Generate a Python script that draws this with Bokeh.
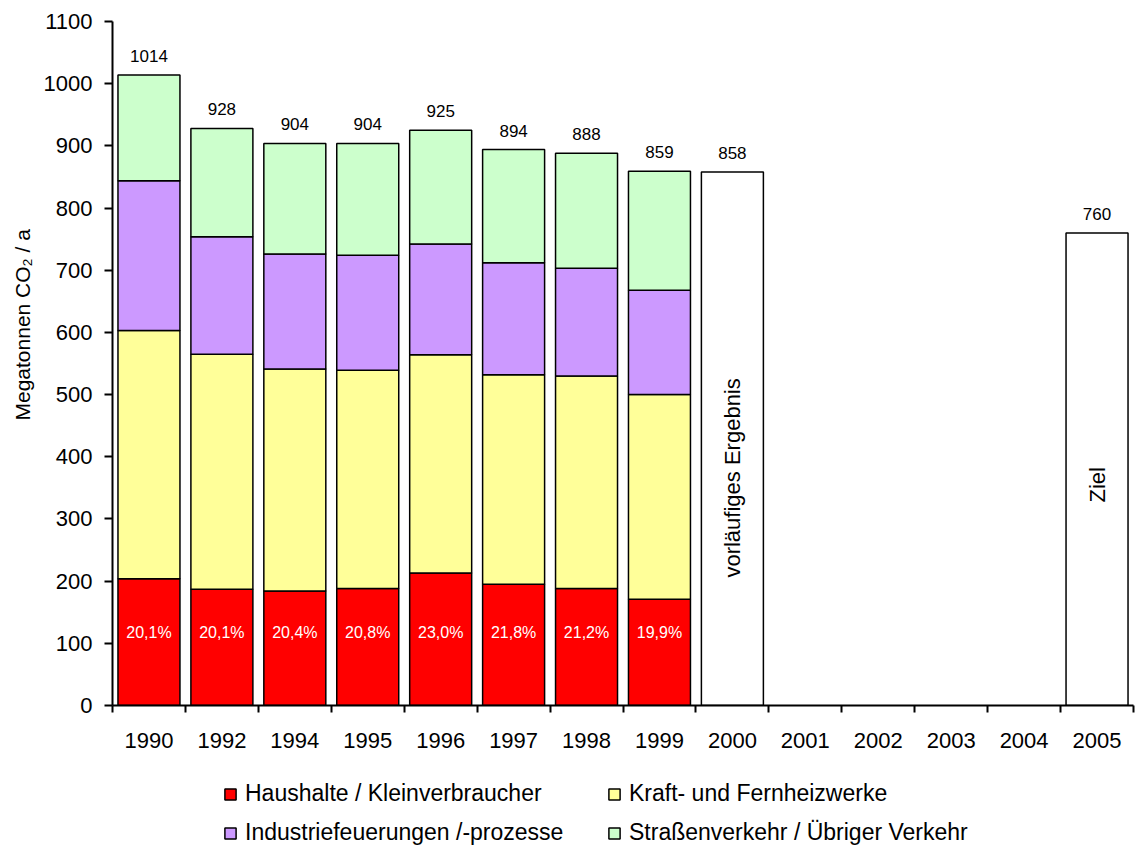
from math import pi
from bokeh.plotting import figure
from bokeh.layouts import column
from bokeh.models import (ColumnDataSource, Range1d, FixedTicker, Legend, LegendItem, Title)
from bokeh.core.properties import value
from bokeh.embed import file_html
from bokeh.resources import INLINE

# ---- data ----
years = ["1990", "1992", "1994", "1995", "1996", "1997", "1998", "1999",
         "2000", "2001", "2002", "2003", "2004", "2005"]
stack_years = ["1990", "1992", "1994", "1995", "1996", "1997", "1998", "1999"]
haushalte = [204, 187, 184, 188, 213, 195, 188, 171]
kraft = [399, 378, 357, 351, 351, 337, 342, 329]
industrie = [241, 189, 185, 185, 178, 180, 173, 168]
verkehr = [170, 174, 178, 180, 183, 182, 185, 191]
totals = [1014, 928, 904, 904, 925, 894, 888, 859]
shares = ["20,1%", "20,1%", "20,4%", "20,8%", "23,0%", "21,8%", "21,2%", "19,9%"]
extra_years = ["2000", "2005"]
extra_values = [858, 760]
extra_notes = ["vorläufiges Ergebnis", "Ziel"]
extra_note_y = [366, 355]
y_ticks = [0, 100, 200, 300, 400, 500, 600, 700, 800, 900, 1000, 1100]
series_names = ["Haushalte / Kleinverbraucher", "Kraft- und Fernheizwerke",
                "Industriefeuerungen /-prozesse", "Straßenverkehr / Übriger Verkehr"]
colors = ["#FF0000", "#FFFF99", "#CC99FF", "#CCFFCC"]

FONT = "Liberation Sans"

def xpos(y):
    return years.index(y) + 0.5

src = ColumnDataSource(dict(
    x=[xpos(y) for y in stack_years],
    h=haushalte, k=kraft, i=industrie, v=verkehr,
    total=totals, total_lbl=[str(t) for t in totals],
    share=shares,
))
src2 = ColumnDataSource(dict(
    x=[xpos(y) for y in extra_years],
    top=extra_values,
    lbl=[str(v) for v in extra_values],
    note=extra_notes,
    note_y=extra_note_y,
))

p = figure(width=1135, height=760, output_backend="svg", toolbar_location=None,
           x_range=Range1d(0, len(years)), y_range=Range1d(0, 1100),
           min_border_left=112, min_border_right=2, min_border_top=21,
           min_border_bottom=55)
p.outline_line_color = None
p.grid.visible = False
p.background_fill_color = "white"
p.border_fill_color = "white"

p.vbar_stack(["h", "k", "i", "v"], x="x", width=0.85, source=src,
             fill_color=colors, line_color="black", line_width=1.5)

p.vbar(x="x", top="top", width=0.85, source=src2, fill_color="white",
       line_color="black", line_width=1.5)

# totals above bars
p.text(x="x", y="total", text="total_lbl", source=src, text_align="center",
       text_baseline="bottom", y_offset=-13, text_font=value(FONT),
       text_font_size="17px", text_color="black")
p.text(x="x", y="top", text="lbl", source=src2, text_align="center",
       text_baseline="bottom", y_offset=-13, text_font=value(FONT),
       text_font_size="17px", text_color="black")
# share labels
p.text(x="x", y=117, text="share", source=src, text_align="center",
       text_baseline="middle", text_font=value(FONT), text_font_size="16px",
       text_color="white")
# notes in white bars
p.text(x="x", y="note_y", text="note", source=src2, angle=pi / 2,
       text_align="center", text_baseline="middle", text_font=value(FONT),
       text_font_size="22px", text_color="black")

# axes
xa = p.xaxis[0]
xa.ticker = FixedTicker(ticks=[i + 0.5 for i in range(len(years))],
                        minor_ticks=list(range(len(years) + 1)))
xa.major_label_overrides = {i + 0.5: y for i, y in enumerate(years)}
xa.major_tick_out = 0
xa.major_tick_in = 0
xa.minor_tick_out = 7
xa.minor_tick_in = 0
xa.minor_tick_line_color = "black"
xa.minor_tick_line_width = 2
xa.axis_line_width = 2
xa.axis_line_color = "black"
xa.major_label_standoff = 20
xa.major_label_text_font = FONT
xa.major_label_text_font_size = "22px"
xa.major_label_text_color = "black"

ya = p.yaxis[0]
ya.ticker = FixedTicker(ticks=y_ticks)
ya.major_tick_out = 8
ya.major_tick_in = 0
ya.minor_tick_out = 0
ya.minor_tick_in = 0
ya.major_tick_line_width = 2
ya.major_tick_line_color = "black"
ya.axis_line_width = 2
ya.axis_line_color = "black"
ya.major_label_standoff = 12
ya.major_label_text_font = FONT
ya.major_label_text_font_size = "22px"
ya.major_label_text_color = "black"

ytitle = Title(text="Megatonnen CO₂ / a", align="left", offset=285,
               text_font=FONT, text_font_size="21px", text_font_style="normal",
               text_color="black", standoff=14)
p.add_layout(ytitle, "left")

# ---- legend strip below ----
lg = figure(width=1135, height=88, output_backend="svg", toolbar_location=None,
            x_range=Range1d(0, 1), y_range=Range1d(0, 1),
            x_axis_type=None, y_axis_type=None,
            min_border_left=0, min_border_right=0, min_border_top=0, min_border_bottom=0)
lg.outline_line_color = None
lg.grid.visible = False
lg.border_fill_color = "white"

nan = float("nan")
dummy = [lg.vbar(x=[nan], top=[nan], width=0.1, fill_color=c, line_color="black",
                 line_width=1.5)
         for c in colors]
items = [LegendItem(label=n, renderers=[r]) for n, r in zip(series_names, dummy)]
legend = Legend(items=items, location=(111, 2), orientation="horizontal", ncols=2,
                glyph_width=14, glyph_height=14, label_standoff=8, spacing=12,
                padding=0, margin=0, border_line_color=None,
                background_fill_alpha=0, label_width=350, label_height=26,
                label_text_font=FONT, label_text_font_size="23px",
                label_text_color="black")
lg.add_layout(legend, "center")

layout = column(p, lg, spacing=0)
open("out.html", "w").write(file_html(layout, INLINE))
